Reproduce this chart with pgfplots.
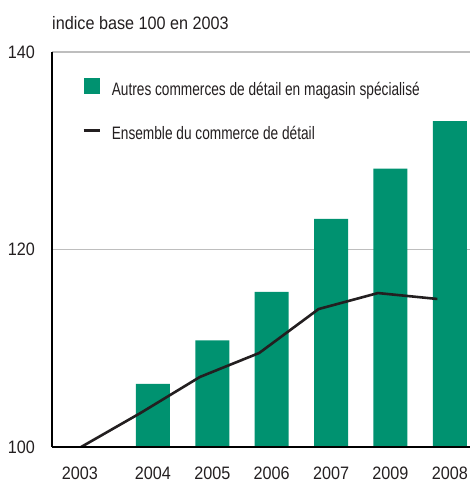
\documentclass[border=0pt]{standalone}
\usepackage{fontspec}
\setmainfont{Liberation Sans}[FakeStretch=0.9]
\newfontfamily\legfont{Liberation Sans}[FakeStretch=0.76]
\usepackage{pgfplots}
\pgfplotsset{compat=1.18}
\definecolor{bargreen}{RGB}{0,146,112}
\definecolor{linedark}{RGB}{35,31,32}
\definecolor{gridgrey}{RGB}{190,190,190}
\definecolor{txt}{RGB}{35,31,32}
\begin{document}
\begin{tikzpicture}
\useasboundingbox (0,0) rectangle (470bp,482bp);
\node[anchor=base west, inner sep=0pt, text=txt, font=\fontsize{18bp}{21bp}\selectfont] at (52bp,452bp) {indice base 100 en 2003};
\begin{axis}[
  at={(52bp,35bp)}, anchor=south west,
  scale only axis, width=418bp, height=395bp,
  xmin=-0.70, xmax=6.34, ymin=100, ymax=140,
  axis lines*=left,
  axis line style={black, line width=1.3bp},
  x axis line style={line width=2bp},
  major tick length=0pt,
  ytick={100,120,140},
  ymajorgrids, grid style={gridgrey, line width=1.2bp},
  xtick={-0.23,1,2,3,4,5,6},
  xticklabels={2003,2004,2005,2006,2007,2009,2008},
  /pgf/number format/assume math mode=true,
  tick label style={font=\fontsize{18bp}{21bp}\selectfont, inner sep=0pt, text=txt},
  yticklabel style={anchor=east, xshift=-17bp},
  xticklabel style={anchor=north, yshift=-20bp},
  legend style={at={(0.0718,0.934)}, anchor=north west, draw=none, fill=none,
    inner sep=0pt, font=\legfont\fontsize{18bp}{21bp}\selectfont, text=txt,
    nodes={inner sep=0pt, text height=13bp, text depth=4bp},
    row sep=27bp,
    /tikz/every odd column/.append style={column sep=11bp}},
  legend cell align=left,
  clip=true,
]
\addplot[ybar, bar shift=0pt, bar width=0.572, fill=bargreen, draw=none,
  legend image code/.code={\fill[bargreen] (0bp,-3bp) rectangle (16bp,13bp);}]
  coordinates {(1,106.4) (2,110.8) (3,115.7) (4,123.1) (5,128.2) (6,133.0)};
\addlegendentry{Autres commerces de détail en magasin spécialisé}
\addplot[linedark, line width=2.6bp, mark=none,
  legend image code/.code={\draw[linedark, line width=2.6bp] (0bp,5bp) -- (16bp,5bp);}]
  coordinates {(-0.21,100) (0.79,103.44) (1.79,107.09) (2.79,109.52) (3.79,113.97) (4.79,115.59) (5.79,114.99)};
\addlegendentry{Ensemble du commerce de détail}
\draw[black, line width=2bp] (rel axis cs:0,0) -- (rel axis cs:1,0);
\end{axis}
\end{tikzpicture}
\end{document}
